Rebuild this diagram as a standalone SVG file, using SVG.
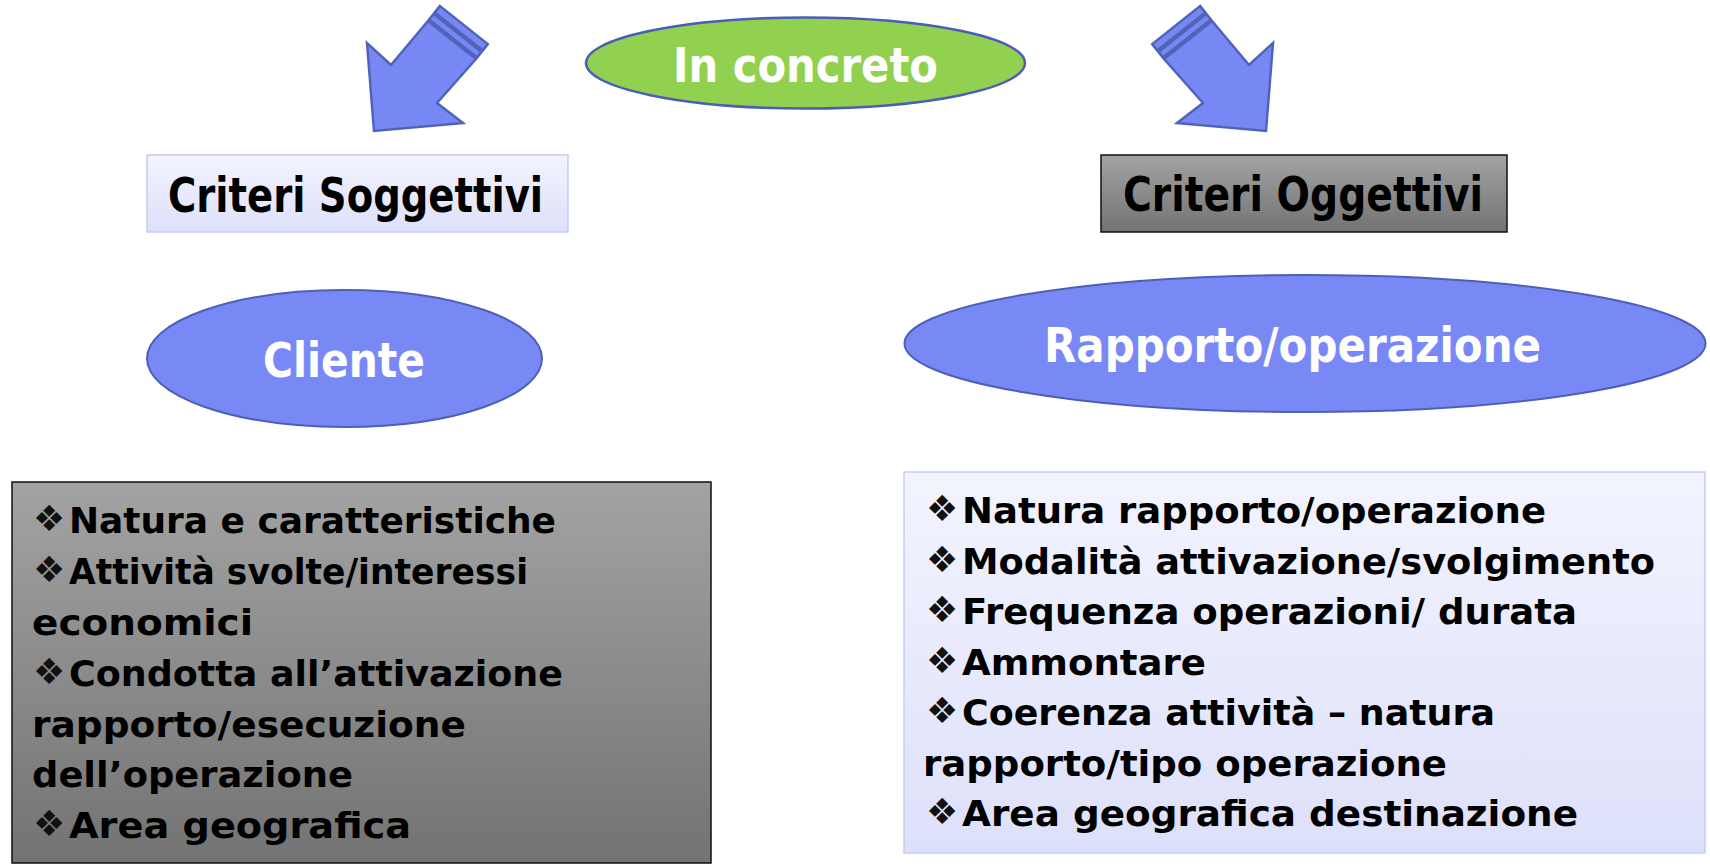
<svg xmlns="http://www.w3.org/2000/svg" width="1710" height="864" viewBox="0 0 1710 864">
  <defs>
    <linearGradient id="gGray" x1="0" y1="0" x2="0" y2="1">
      <stop offset="0" stop-color="#a3a3a3"/>
      <stop offset="1" stop-color="#737373"/>
    </linearGradient>
    <linearGradient id="gLav" x1="0" y1="0" x2="0" y2="1">
      <stop offset="0" stop-color="#f3f4fe"/>
      <stop offset="1" stop-color="#dde0fa"/>
    </linearGradient>
    <style>
      .t { font-family: "DejaVu Sans", "Liberation Sans", sans-serif; font-weight: bold; }
      .title { font-size: 48px; }
      .w { fill: #ffffff; }
      .k { fill: #000000; }
      .li { font-size: 35px; fill: #000000; }
      .bul { font-family: "DejaVu Sans", sans-serif; font-size: 36px; fill: #111111; }
      .ell { fill: #7889f6; stroke: #4d5fb8; stroke-width: 2; }
      .arr { fill: #7788f5; stroke: #5063bb; stroke-width: 2.5; stroke-linejoin: miter; }
      .boxG { fill: url(#gGray); stroke: #111111; stroke-width: 1.5; }
      .boxL { fill: url(#gLav); stroke: #c3cbf6; stroke-width: 1.5; }
    </style>
  </defs>
  <rect x="0" y="0" width="1710" height="864" fill="#ffffff"/>

  <g id="connectors">
    <g id="arrow-left">
      <polygon class="arr" points="428,21 476,59 437,103 463,123 374,131 367,43 391,65"/>
      <polygon class="arr" stroke-width="2" points="429.2,19.4 477.2,57.4 481.6,51.9 433.6,13.9"/>
      <polygon class="arr" stroke-width="2" points="434.8,12.4 482.8,50.4 487.8,44.1 439.8,6.1"/>
    </g>
    <g id="arrow-right">
      <polygon class="arr" points="1212,21 1164,59 1203,103 1177,123 1266,131 1273,43 1249,65"/>
      <polygon class="arr" stroke-width="2" points="1210.8,19.4 1162.8,57.4 1158.4,51.9 1206.4,13.9"/>
      <polygon class="arr" stroke-width="2" points="1205.2,12.4 1157.2,50.4 1152.2,44.1 1200.2,6.1"/>
    </g>
  </g>

  <g id="in-concreto">
    <ellipse cx="805.5" cy="63" rx="219.5" ry="45.5" fill="#92d050" stroke="#4b5db6" stroke-width="2.5"/>
    <text class="t title w" x="673" y="82" textLength="265" lengthAdjust="spacingAndGlyphs">In concreto</text>
  </g>

  <g id="criteri-soggettivi">
    <rect class="boxL" x="147" y="155" width="421" height="77"/>
    <text class="t title k" x="168" y="212" textLength="375" lengthAdjust="spacingAndGlyphs">Criteri Soggettivi</text>
  </g>

  <g id="criteri-oggettivi">
    <rect class="boxG" x="1101" y="155" width="406" height="77"/>
    <text class="t title k" x="1123" y="211" textLength="360" lengthAdjust="spacingAndGlyphs">Criteri Oggettivi</text>
  </g>

  <g id="cliente">
    <ellipse class="ell" cx="344.5" cy="358.5" rx="197.5" ry="68.5"/>
    <text class="t title w" x="263" y="377" textLength="162" lengthAdjust="spacingAndGlyphs">Cliente</text>
  </g>

  <g id="rapporto-operazione">
    <ellipse class="ell" cx="1305" cy="343.5" rx="400.5" ry="68.5"/>
    <text class="t title w" x="1044" y="362" textLength="497" lengthAdjust="spacingAndGlyphs">Rapporto/operazione</text>
  </g>

  <g id="lista-cliente">
    <rect class="boxG" x="12" y="482" width="699" height="381"/>
    <text class="bul" x="33" y="531">❖</text>
    <text class="t li" x="69" y="533" textLength="487" lengthAdjust="spacingAndGlyphs">Natura e caratteristiche</text>
    <text class="bul" x="33" y="582">❖</text>
    <text class="t li" x="69" y="584" textLength="459" lengthAdjust="spacingAndGlyphs">Attività svolte/interessi</text>
    <text class="t li" x="32" y="635" textLength="221" lengthAdjust="spacingAndGlyphs">economici</text>
    <text class="bul" x="33" y="684">❖</text>
    <text class="t li" x="69" y="686" textLength="494" lengthAdjust="spacingAndGlyphs">Condotta all’attivazione</text>
    <text class="t li" x="32" y="737" textLength="434" lengthAdjust="spacingAndGlyphs">rapporto/esecuzione</text>
    <text class="t li" x="32" y="787" textLength="321" lengthAdjust="spacingAndGlyphs">dell’operazione</text>
    <text class="bul" x="33" y="836">❖</text>
    <text class="t li" x="69" y="838" textLength="342" lengthAdjust="spacingAndGlyphs">Area geografica</text>
  </g>

  <g id="lista-rapporto">
    <rect class="boxL" x="904" y="472" width="801" height="381"/>
    <text class="bul" x="926" y="521">❖</text>
    <text class="t li" x="962" y="523" textLength="584" lengthAdjust="spacingAndGlyphs">Natura rapporto/operazione</text>
    <text class="bul" x="926" y="572">❖</text>
    <text class="t li" x="962" y="574" textLength="693" lengthAdjust="spacingAndGlyphs">Modalità attivazione/svolgimento</text>
    <text class="bul" x="926" y="622">❖</text>
    <text class="t li" x="962" y="624" textLength="615" lengthAdjust="spacingAndGlyphs">Frequenza operazioni/ durata</text>
    <text class="bul" x="926" y="673">❖</text>
    <text class="t li" x="962" y="675" textLength="244" lengthAdjust="spacingAndGlyphs">Ammontare</text>
    <text class="bul" x="926" y="723">❖</text>
    <text class="t li" x="962" y="725" textLength="533" lengthAdjust="spacingAndGlyphs">Coerenza attività – natura</text>
    <text class="t li" x="923" y="776" textLength="524" lengthAdjust="spacingAndGlyphs">rapporto/tipo operazione</text>
    <text class="bul" x="926" y="824">❖</text>
    <text class="t li" x="962" y="826" textLength="616" lengthAdjust="spacingAndGlyphs">Area geografica destinazione</text>
  </g>
</svg>
